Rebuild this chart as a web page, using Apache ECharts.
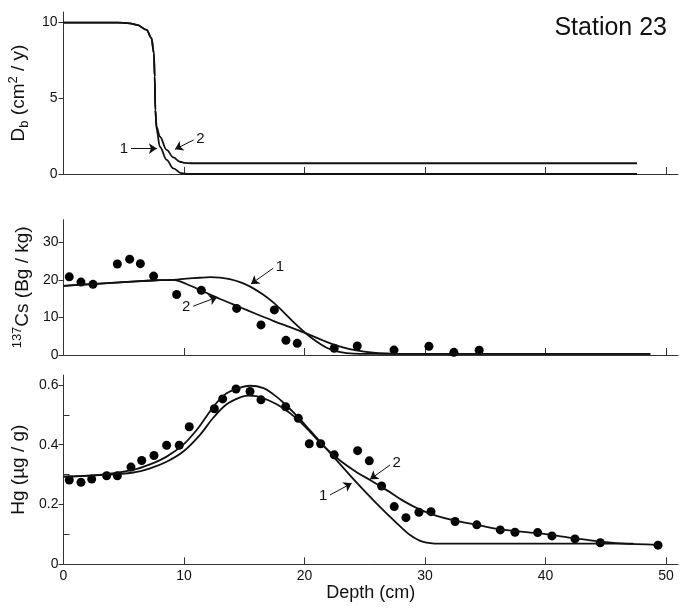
<!DOCTYPE html>
<html>
<head>
<meta charset="UTF-8">
<title>Station 23</title>
<script src="https://cdn.jsdelivr.net/npm/echarts@6/dist/echarts.min.js"></script>
<style>
  html, body { margin: 0; padding: 0; background: #fff; }
</style>
</head>
<body>
<div id="main" style="width: 681px;height:609px;"></div>
<script type="text/javascript">
// Db panel, model curves 1 and 2
var dbDepth1 = [0, 4.5, 5.5, 6.1, 6.9, 7.3, 7.5, 7.57, 7.62, 7.73, 8.0, 8.56, 9.11, 9.8, 10.3, 47.6];
var dbCurve1 = [10, 10, 9.95, 9.85, 9.52, 8.97, 7.98, 6.43, 4.23, 2.91, 1.8, 0.93, 0.37, 0.05, 0, 0];
var dbDepth2 = [0, 4.5, 5.5, 6.1, 6.9, 7.3, 7.5, 7.57, 7.62, 7.73, 8.0, 8.56, 9.11, 9.67, 10.08, 10.6, 47.6];
var dbCurve2 = [10, 10, 9.95, 9.85, 9.52, 8.97, 7.98, 6.43, 4.23, 3.1, 2.47, 1.59, 1.1, 0.81, 0.73, 0.71, 0.71];

// 137Cs panel
var csDepth = [0.48, 1.45, 2.45, 4.47, 5.49, 6.38, 7.48, 9.39, 11.44, 14.37, 16.39, 17.5, 18.46, 19.4, 22.47, 24.38, 27.43, 30.33, 32.4, 34.5];
var csValue = [20.8, 19.4, 18.8, 24.2, 25.5, 24.3, 21.0, 16.1, 17.2, 12.4, 8.0, 12.0, 3.9, 3.1, 1.8, 2.4, 1.3, 2.3, 0.7, 1.25];
var csDepth1 = [0, 2, 4, 6, 8, 9.1, 10.2, 11.3, 12.2, 13.0, 13.8, 14.65, 15.5, 16.5, 17.4, 18.3, 19.2, 20.1, 21.0, 21.8, 22.6, 23.5, 24.6, 48.7];
var csCurve1 = [18.4, 18.8, 19.2, 19.6, 19.9, 20.0, 20.3, 20.55, 20.7, 20.6, 20.2, 19.4, 18.2, 16.2, 14.0, 11.3, 8.4, 5.8, 3.6, 2.0, 1.0, 0.5, 0.3, 0.3];
var csDepth2 = [0, 2, 4, 6, 8, 9.1, 10.2, 11.6, 13.0, 14.65, 16.0, 17.4, 18.8, 20.1, 21.6, 22.9, 24.3, 25.7, 27.1, 28.5, 48.7];
var csCurve2 = [18.4, 18.8, 19.2, 19.6, 19.9, 20.0, 18.9, 16.9, 14.9, 12.7, 10.9, 9.1, 7.4, 5.8, 3.8, 2.3, 1.2, 0.6, 0.38, 0.3, 0.3];

// Hg panel
var hgDepth = [0.48, 1.45, 2.34, 3.58, 4.47, 5.6, 6.49, 7.51, 8.56, 9.61, 10.44, 12.52, 13.21, 14.32, 15.48, 16.39, 18.44, 19.49, 20.4, 21.34, 22.47, 24.41, 25.38, 26.4, 27.45, 28.42, 29.5, 30.5, 32.5, 34.3, 36.25, 37.47, 39.35, 40.54, 42.45, 44.55, 49.34];
var hgValue = [0.282, 0.274, 0.285, 0.296, 0.296, 0.325, 0.347, 0.364, 0.398, 0.398, 0.46, 0.52, 0.553, 0.586, 0.578, 0.55, 0.527, 0.488, 0.403, 0.403, 0.366, 0.38, 0.346, 0.262, 0.193, 0.156, 0.174, 0.176, 0.143, 0.132, 0.115, 0.107, 0.106, 0.095, 0.085, 0.072, 0.064];
var hgDepth1 = [0, 3.0, 5.8, 7.18, 8.56, 9.94, 11.05, 11.9, 12.6, 13.54, 14.65, 15.48, 16.6, 17.4, 18.24, 19.35, 20.46, 21.56, 22.95, 24.33, 25.99, 27.65, 28.76, 29.86, 31.2, 47.3];
var hgCurve1 = [0.293, 0.299, 0.316, 0.334, 0.36, 0.4, 0.449, 0.497, 0.535, 0.572, 0.591, 0.597, 0.589, 0.569, 0.541, 0.497, 0.448, 0.398, 0.335, 0.273, 0.203, 0.138, 0.098, 0.075, 0.069, 0.069];
var hgDepth2 = [0, 3.0, 5.8, 7.18, 8.56, 9.94, 11.33, 12.43, 13.54, 14.65, 15.3, 16.0, 17.1, 18.24, 19.35, 20.46, 21.56, 22.95, 24.33, 25.44, 26.82, 28.2, 29.59, 30.97, 32.5, 34.34, 36.25, 39.35, 42.45, 44.55, 46.2, 49.34];
var hgCurve2 = [0.293, 0.298, 0.307, 0.321, 0.343, 0.377, 0.433, 0.49, 0.535, 0.558, 0.564, 0.562, 0.547, 0.522, 0.487, 0.443, 0.396, 0.347, 0.308, 0.282, 0.248, 0.212, 0.183, 0.162, 0.146, 0.132, 0.117, 0.104, 0.087, 0.076, 0.07, 0.065];

// tick labels
var depthTicks = [0, 10, 20, 30, 40, 50];
var dbTicks = [0, 5, 10];
var csTicks = [0, 10, 20, 30];
var hgTicks = [0, 0.2, 0.4, 0.6];
var hgMinorTicks = [0.1, 0.3, 0.5];

// curve labels: [label, start x, start y, tip x, tip y]
var dbNotes = [['1', 5.6, 1.68, 7.75, 1.68], ['2', 10.8, 2.25, 9.25, 1.63]];
var csNotes = [['1', 17.41, 23.1, 15.56, 18.9], ['2', 10.77, 13.0, 12.76, 15.4]];
var hgNotes = [['1', 22.12, 0.232, 23.92, 0.271], ['2', 27.1, 0.332, 25.44, 0.284]];

function zip(xs, ys) {
    return xs.map(function (x, i) { return [x, ys[i]]; });
}

var FONT = 'Liberation Sans';
var INK = '#111';

function notes(list) {
    return {
        silent: true,
        animation: false,
        symbol: ['none', 'arrow'],
        symbolSize: 8,
        lineStyle: { color: INK, width: 1, type: 'solid' },
        label: { show: true, position: 'start', distance: 3, formatter: '{b}',
                 color: INK, fontFamily: FONT, fontSize: 15 },
        data: list.map(function (n) {
            return [{ name: n[0], coord: [n[1], n[2]] }, { coord: [n[3], n[4]] }];
        })
    };
}

function xAx(idx, labels) {
    return {
        type: 'value', gridIndex: idx, min: 0, max: 51, interval: 10,
        axisLine: { show: true, lineStyle: { color: '#333', width: 1 } },
        axisTick: { show: true, inside: true, length: 7, customValues: [10, 20, 30, 40, 50],
                    lineStyle: { color: '#333' } },
        axisLabel: { show: labels, customValues: depthTicks, margin: 5,
                     color: INK, fontFamily: FONT, fontSize: 14 },
        splitLine: { show: false },
        name: labels ? 'Depth (cm)' : '', nameLocation: 'middle', nameGap: 17,
        nameTextStyle: { color: INK, fontFamily: FONT, fontSize: 18 }
    };
}

var nameRich = {
    m: { fontFamily: FONT, fontSize: 19, color: INK, lineHeight: 24, verticalAlign: 'middle' },
    sub: { fontFamily: FONT, fontSize: 13, color: INK, lineHeight: 14, verticalAlign: 'bottom' },
    sup: { fontFamily: FONT, fontSize: 13, color: INK, lineHeight: 14, verticalAlign: 'top' }
};

function yAx(idx, max, ticks, name, gap, margin) {
    return {
        type: 'value', gridIndex: idx, min: 0, max: max,
        axisLine: { show: true, lineStyle: { color: '#333', width: 1 } },
        axisTick: { show: true, inside: false, length: 5, customValues: ticks, lineStyle: { color: '#333' } },
        axisLabel: { customValues: ticks, margin: margin, color: INK, fontFamily: FONT, fontSize: 14 },
        splitLine: { show: false },
        name: name, nameLocation: 'middle', nameRotate: 90, nameGap: gap,
        nameTextStyle: { rich: nameRich }
    };
}

function curve(xi, data) {
    return {
        type: 'line', xAxisIndex: xi, yAxisIndex: xi, data: data,
        showSymbol: false, smooth: 0.35,
        lineStyle: { color: INK, width: 1.8 }, silent: true
    };
}

function dots(xi, data) {
    return {
        type: 'scatter', xAxisIndex: xi, yAxisIndex: xi, data: data,
        symbol: 'circle', symbolSize: 9, itemStyle: { color: '#000', opacity: 1 }, silent: true
    };
}

var myChart = echarts.init(document.getElementById('main'));

var dbLine1 = curve(0, zip(dbDepth1, dbCurve1));
dbLine1.smoothMonotone = 'x';
dbLine1.markLine = notes(dbNotes);
var dbLine2 = curve(0, zip(dbDepth2, dbCurve2));
dbLine2.smoothMonotone = 'x';
var csLine1 = curve(1, zip(csDepth1, csCurve1));
csLine1.markLine = notes(csNotes);
var hgLine1 = curve(2, zip(hgDepth1, hgCurve1));
hgLine1.markLine = notes(hgNotes);

var hgMinor = {
    type: 'value', gridIndex: 2, min: 0, max: 0.633, position: 'left',
    axisLine: { show: false },
    axisTick: { show: true, inside: true, length: 6, customValues: hgMinorTicks, lineStyle: { color: '#333' } },
    axisLabel: { show: false },
    splitLine: { show: false }
};

var option = {
    animation: false,
    backgroundColor: '#fff',
    title: {
        text: 'Station 23', right: 14, top: 16, padding: 0,
        textStyle: { fontFamily: FONT, fontSize: 25, fontWeight: 'normal', color: INK }
    },
    grid: [
        { left: 63.5, right: 3, top: 12, height: 162, outerBoundsMode: 'none' },
        { left: 63.5, right: 3, top: 219.7, height: 135.3, outerBoundsMode: 'none' },
        { left: 63.5, right: 3, top: 375, height: 189.3, outerBoundsMode: 'none' }
    ],
    xAxis: [xAx(0, false), xAx(1, false), xAx(2, true)],
    yAxis: [
        yAx(0, 10.7, dbTicks, '{m|D}{sub|b}{m| (cm}{sup|2}{m| / y)}', 24, 6),
        yAx(1, 36, csTicks, '{sup|137}{m|Cs (Bg / kg)}', 26, 5),
        yAx(2, 0.633, hgTicks, '{m|Hg (µg / g)}', 23, 5),
        hgMinor
    ],
    series: [
        dbLine1,
        dbLine2,
        csLine1,
        curve(1, zip(csDepth2, csCurve2)),
        dots(1, zip(csDepth, csValue)),
        hgLine1,
        curve(2, zip(hgDepth2, hgCurve2)),
        dots(2, zip(hgDepth, hgValue))
    ]
};
// the minor-tick axis shares grid 3
option.series[5].yAxisIndex = 2;
option.series[6].yAxisIndex = 2;
option.series[7].yAxisIndex = 2;

myChart.setOption(option);
</script>
</body>
</html>
